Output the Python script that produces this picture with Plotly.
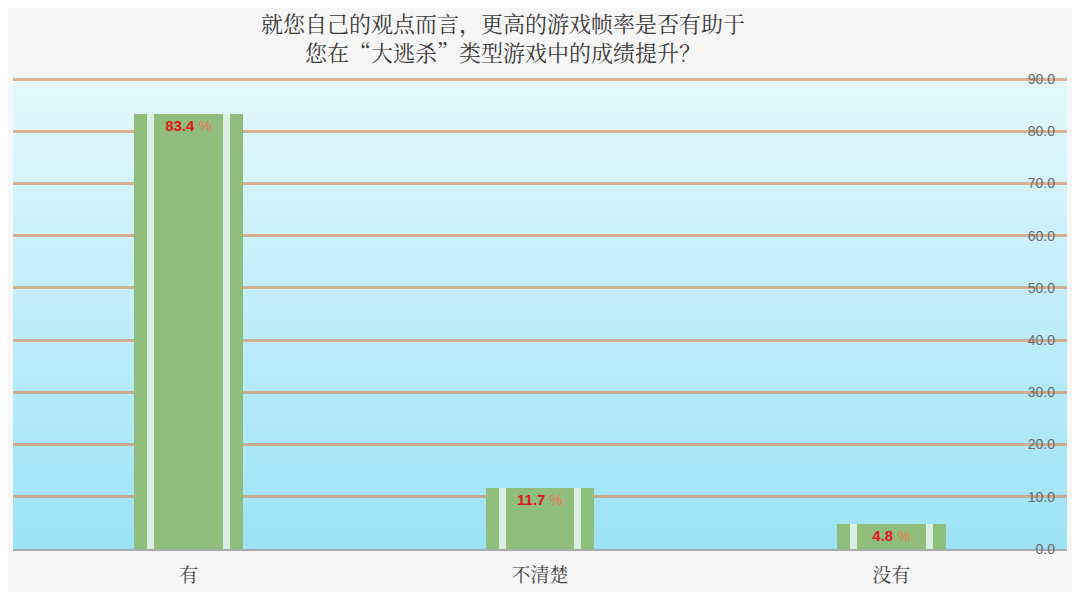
import plotly.graph_objects as go

categories = ['有', '不清楚', '没有']
values = [83.4, 11.7, 4.8]
tick_vals = [0, 10, 20, 30, 40, 50, 60, 70, 80, 90]

title_text = '就您自己的观点而言，更高的游戏帧率是否有助于<br>您在“大逃杀”类型游戏中的成绩提升？'

GREEN = '#8fbd7c'
CJK = 'Noto Serif CJK SC, Noto Sans CJK SC, sans-serif'


def blend(c1, c2, t):
    return 'rgb(%d,%d,%d)' % tuple(round(a + (b - a) * t) for a, b in zip(c1, c2))


fig = go.Figure()

# outer strips, light gaps, then the main bar body
fig.add_trace(go.Bar(x=categories, y=values, width=0.31,
                     marker=dict(color=GREEN, line=dict(width=0)),
                     hoverinfo='skip'))
fig.add_trace(go.Bar(x=categories, y=values, width=0.235,
                     marker=dict(color='rgba(238,251,253,0.8)', line=dict(width=0)),
                     hoverinfo='skip'))
labels = [f'<b>{v:.1f}</b><span style="color:#ec7a55"> %</span>' for v in values]
fig.add_trace(go.Bar(x=categories, y=values, width=0.195,
                     marker=dict(color=GREEN, line=dict(width=0)),
                     text=labels, textposition='inside', insidetextanchor='end',
                     textfont=dict(color='#e3161c', size=15, family='Arial'),
                     textangle=0,
                     name='比例'))

# vertical gradient behind the plot area
top = (228, 248, 252)
bottom = (156, 227, 246)
n = 60
shapes = []
for i in range(n):
    shapes.append(dict(type='rect', xref='x domain', yref='y domain',
                       x0=0, x1=1, y0=i / n, y1=(i + 1) / n + 0.002,
                       fillcolor=blend(bottom, top, i / (n - 1)),
                       line=dict(width=0), layer='below'))

fig.update_layout(
    barmode='overlay',
    width=1064, height=584,
    margin=dict(l=5, r=5, t=69, b=37),
    paper_bgcolor='#f7f7f7',
    plot_bgcolor='rgba(0,0,0,0)',
    shapes=shapes,
    annotations=[dict(text=title_text, xref='paper', yref='paper', x=0.465, y=1.084,
                      xanchor='center', yanchor='middle', showarrow=False,
                      font=dict(family=CJK, size=22, color='#3a3a3a'))],
    showlegend=False,
    bargap=0,
    xaxis=dict(showgrid=False, tickfont=dict(family=CJK, size=19, color='#444444'),
               showline=True, linecolor='rgba(150,150,150,0.8)', linewidth=2,
               ticks='', ticklabelstandoff=8, range=[-0.5, 2.5]),
    yaxis=dict(range=[0, 90.4], side='right', tickvals=tick_vals, tickformat='.1f',
               ticklabelposition='inside', ticklabeloverflow='allow',
               ticks='', ticklabelstandoff=9,
               tickfont=dict(family='Arial', size=14, color='#6a6a6a'),
               gridcolor='rgba(220,140,90,0.65)', gridwidth=3,
               zeroline=False, showline=False),
)

fig.write_html('out.html')
